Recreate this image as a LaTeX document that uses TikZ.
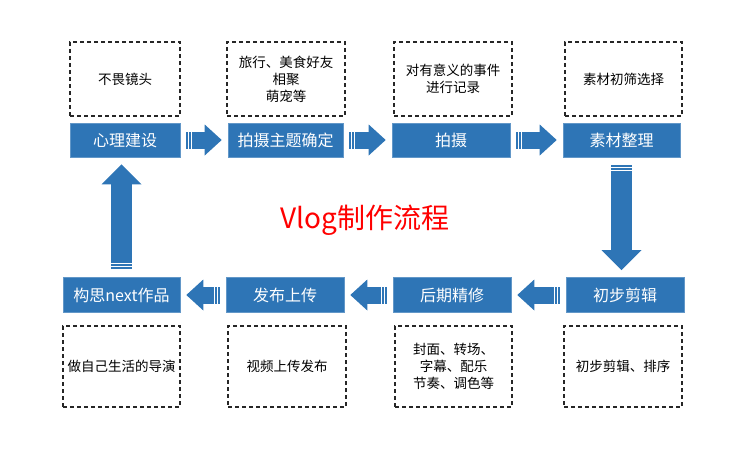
\documentclass[tikz,border=0pt]{standalone}
\usepackage{fontspec}
\setmainfont{Noto Sans CJK SC}
\usepackage{xcolor}
\usetikzlibrary{arrows.meta}
\definecolor{stepblue}{RGB}{46,117,182}

\begin{document}
\begin{tikzpicture}[x=1pt, y=-1pt,
      etape/.style={
        fill=stepblue,
        draw=stepblue!75!white,
        line width=0.6pt,
        minimum height=34pt,
        inner sep=0pt,
        text=white,
        font=\fontsize{16}{18}\selectfont
      },
      note/.style={
        draw=black!85,
        dash pattern=on 4pt off 3pt,
        line width=1.1pt,
        align=center,
        inner sep=0pt,
        font=\fontsize{13.5}{17}\selectfont
      },
      fleche/.style={
        stepblue,
        line width=17pt,
        dash pattern=on 2pt off 1pt on 2pt off 1pt on 400pt,
        -{Triangle[length=17pt,width=31pt,line width=0pt]},
        shorten <=6pt,
        shorten >=6pt
      },
      flechev/.style={
        fleche,
        line width=21pt,
        -{Triangle[length=20pt,width=40pt,line width=0pt]},
        shorten <=8pt,
        shorten >=7pt
      }
      ]
        \useasboundingbox (0,0) rectangle (743,452);

        % Etapes du haut
        \node[etape, minimum width=110pt] (b1) at (125,140) {心理建设};
        \node[etape, minimum width=115pt] (b2) at (285.5,140) {拍摄主题确定};
        \node[etape, minimum width=118pt] (b3) at (451,140) {拍摄};
        \node[etape, minimum width=117pt] (b4) at (621.5,140) {素材整理};

        % Etapes du bas
        \node[etape, minimum width=118pt, minimum height=35pt] (c1) at (625,295) {初步剪辑};
        \node[etape, minimum width=118pt, minimum height=35pt] (c2) at (452,295) {后期精修};
        \node[etape, minimum width=118pt, minimum height=35pt] (c3) at (285,295) {发布上传};
        \node[etape, minimum width=117pt, minimum height=35pt] (c4) at (121.5,295) {构思next作品};

        % Notes
        \node[note, minimum width=110pt, minimum height=74pt] (n1) at (125,79) {不畏镜头};
        \node[note, minimum width=118pt, minimum height=74pt] (n2) at (286,79) {旅行、美食好友\\相聚\\萌宠等};
        \node[note, minimum width=118pt, minimum height=74pt] (n3) at (453,79) {对有意义的事件\\进行记录};
        \node[note, minimum width=117pt, minimum height=74pt] (n4) at (623.5,79) {素材初筛选择};

        \node[note, minimum width=117pt, minimum height=81pt] (m1) at (121.5,366.5) {做自己生活的导演};
        \node[note, minimum width=118pt, minimum height=81pt] (m2) at (287,366.5) {视频上传发布};
        \node[note, minimum width=117pt, minimum height=81pt] (m3) at (453.5,366.5) {封面、转场、\\字幕、配乐\\节奏、调色等};
        \node[note, minimum width=118pt, minimum height=81pt] (m4) at (623,366.5) {初步剪辑、排序};

        % Titre
        \node[text=red, font=\fontsize{28}{30}\selectfont] (titre) at (365,220) {Vlog制作流程};

        % Fleches
        \draw[fleche] (b1) -- (b2);
        \draw[fleche] (b2) -- (b3);
        \draw[fleche] (b3) -- (b4);
        \draw[flechev] (b4.south) -- (b4.south |- c1.north);
        \draw[fleche] (c1) -- (c2);
        \draw[fleche] (c2) -- (c3);
        \draw[fleche] (c3) -- (c4);
        \draw[flechev] (c4.north) -- (c4.north |- b1.south);
    \end{tikzpicture}
\end{document}
